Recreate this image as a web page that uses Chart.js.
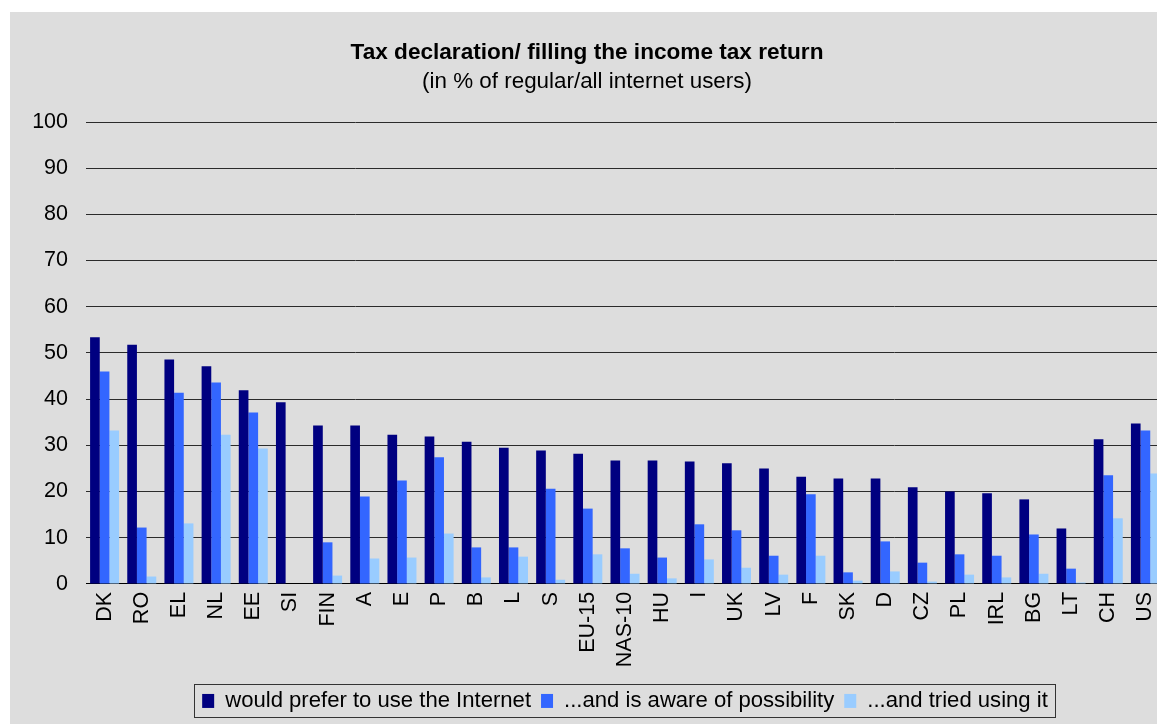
<!DOCTYPE html>
<html>
<head>
<meta charset="utf-8">
<script src="https://cdn.jsdelivr.net/npm/chart.js@4/dist/chart.umd.min.js"></script>
<style>
  html, body { margin: 0; padding: 0; background: #ffffff; overflow: hidden; width: 1157px; height: 724px; }
  #frame { position: absolute; left: 10px; top: 12px; width: 1147px; height: 712px; background: #dddddd; overflow: hidden; }
  #chart { position: absolute; left: 0; top: 0; }
</style>
</head>
<body>
<div id="frame"><canvas id="chart" width="1154" height="712"></canvas></div>
<script>
const countries = ['DK','RO','EL','NL','EE','SI','FIN','A','E','P','B','L','S','EU-15','NAS-10','HU','I','UK','LV','F','SK','D','CZ','PL','IRL','BG','LT','CH','US'];
const preferInternet = [53.4, 51.8, 48.6, 47.1, 41.9, 39.3, 34.3, 34.3, 32.3, 31.9, 30.8, 29.5, 28.9, 28.2, 26.7, 26.7, 26.5, 26.1, 25.0, 23.2, 22.8, 22.8, 20.9, 20.0, 19.6, 18.3, 12.0, 31.3, 34.7];
const awareOfPossibility = [46.0, 12.2, 41.4, 43.6, 37.1, 0, 9.0, 18.9, 22.4, 27.4, 7.9, 7.9, 20.6, 16.3, 7.7, 5.7, 12.9, 11.6, 6.1, 19.4, 2.5, 9.2, 4.6, 6.4, 6.1, 10.7, 3.3, 23.5, 33.2];
const triedUsingIt = [33.2, 1.6, 13.1, 32.3, 29.3, 0, 1.8, 5.5, 5.7, 10.9, 1.4, 5.9, 0.9, 6.4, 2.2, 1.2, 5.3, 3.5, 2.0, 6.1, 0.7, 2.7, 0.5, 2.0, 1.4, 2.2, 0.3, 14.2, 23.9];
const seriesNames = ['would prefer to use the Internet', '...and is aware of possibility', '...and tried using it'];
const yTicks = [0, 10, 20, 30, 40, 50, 60, 70, 80, 90, 100];

const FONT = "'Liberation Sans', Arial, sans-serif";

// Frame around the legend row
const legendFrame = {
  id: 'legendFrame',
  afterDraw(chart) {
    const lg = chart.legend;
    if (!lg || !lg.legendHitBoxes || !lg.legendHitBoxes.length) return;
    const hb = lg.legendHitBoxes;
    const first = hb[0], last = hb[hb.length - 1];
    const x0 = first.left - 8, x1 = last.left + last.width + 7;
    const y0 = first.top - 6, y1 = first.top + first.height + 5;
    const ctx = chart.ctx;
    ctx.save();
    ctx.strokeStyle = '#333333';
    ctx.lineWidth = 1;
    ctx.strokeRect(Math.round(x0) + 0.5, Math.round(y0) + 0.5, Math.round(x1 - x0), Math.round(y1 - y0));
    ctx.restore();
  }
};

new Chart(document.getElementById('chart'), {
  type: 'bar',
  data: {
    labels: countries,
    datasets: [
      { label: seriesNames[0], data: preferInternet, backgroundColor: '#000080' },
      { label: seriesNames[1], data: awareOfPossibility, backgroundColor: '#3366ff' },
      { label: seriesNames[2], data: triedUsingIt, backgroundColor: '#99ccff' }
    ]
  },
  options: {
    responsive: false,
    animation: false,
    devicePixelRatio: 1,
    layout: { padding: { left: 0, right: 0, top: 0, bottom: 2 } },
    datasets: { bar: { categoryPercentage: 0.78, barPercentage: 1.0, borderWidth: 0 } },
    plugins: {
      title: {
        display: true,
        text: 'Tax declaration/ filling the income tax return',
        color: '#000000',
        font: { family: FONT, size: 22.6, weight: 'bold', lineHeight: 1.2 },
        padding: { top: 27, bottom: 0 }
      },
      subtitle: {
        display: true,
        text: '(in % of regular/all internet users)',
        color: '#000000',
        font: { family: FONT, size: 22.4, weight: 'normal', lineHeight: 1.2 },
        padding: { top: 2, bottom: 27 }
      },
      legend: {
        position: 'bottom',
        fullSize: false,
        labels: {
          color: '#000000',
          font: { family: FONT, size: 22.1 },
          boxWidth: 12,
          boxHeight: 14,
          padding: 10
        }
      },
      tooltip: { enabled: false }
    },
    scales: {
      x: {
        grid: { display: false, drawTicks: false },
        border: { display: true, color: '#000000', width: 1 },
        ticks: {
          color: '#000000',
          font: { family: FONT, size: 21.5 },
          minRotation: 90,
          maxRotation: 90,
          autoSkip: false,
          padding: 8
        },
        afterFit(scale) {
          scale.height = 96;
          scale.paddingLeft = 0;
          scale.paddingRight = 0;
        }
      },
      y: {
        min: 0,
        max: 100,
        afterBuildTicks(scale) { scale.ticks = yTicks.map(v => ({ value: v })); },
        grid: { color: '#2a2a2a', lineWidth: 1, drawTicks: false },
        border: { display: false },
        ticks: {
          color: '#000000',
          font: { family: FONT, size: 21.5 },
          padding: 18
        },
        afterFit(scale) { scale.width = 76; }
      }
    }
  },
  plugins: [legendFrame]
});
</script>
</body>
</html>
